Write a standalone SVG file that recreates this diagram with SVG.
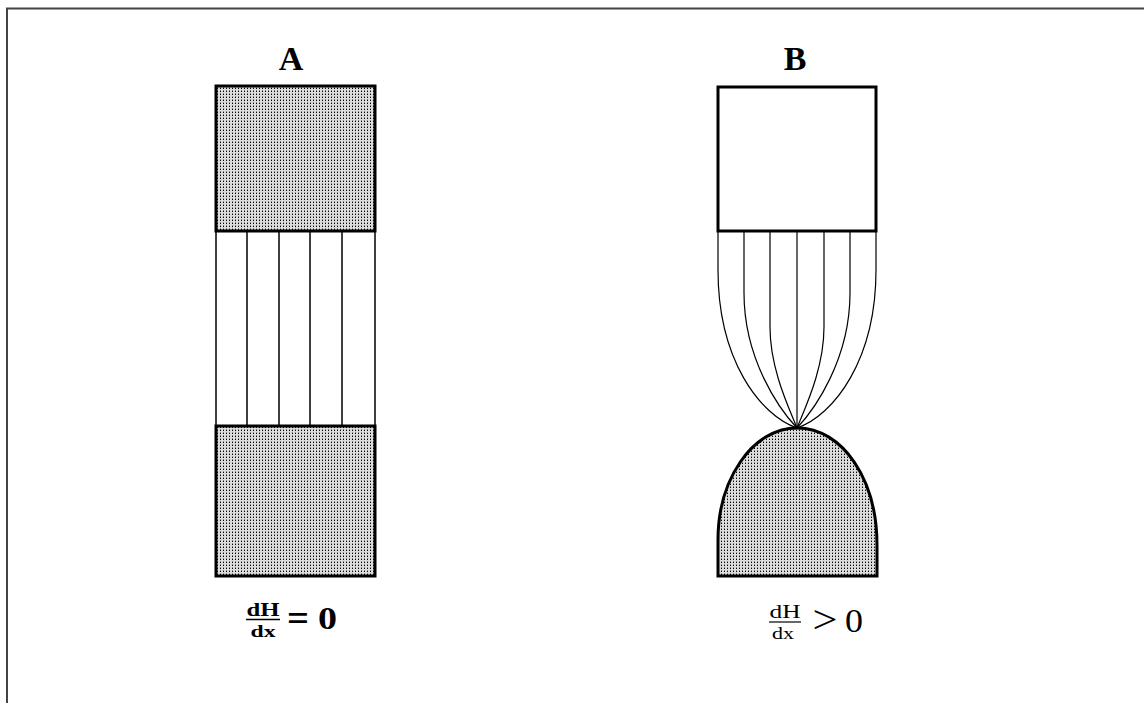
<svg xmlns="http://www.w3.org/2000/svg" width="1144" height="703" viewBox="0 0 1144 703">
<defs>
<pattern id="dots" width="3" height="3" patternUnits="userSpaceOnUse">
<rect width="3" height="3" fill="#dcdcdc"/>
<rect x="1" y="1" width="1" height="1" fill="#000"/>
<rect x="1" y="0" width="1" height="1" fill="#888"/>
</pattern>
<style>
.thick{stroke:#000;stroke-width:3;}
.thin{stroke:#000;stroke-width:1.5;fill:none;}
.curve{stroke:#000;stroke-width:1.2;fill:none;}
.lbl{font-family:"Liberation Serif","Times New Roman",serif;font-weight:bold;fill:#000;}
.frm{font-family:"Liberation Serif","Times New Roman",serif;fill:#000;}
</style>
</defs>
<rect x="0" y="0" width="1144" height="703" fill="#fff"/>
<path d="M7,703 L7,8.5 L1144,8.5" fill="none" stroke="#444" stroke-width="2"/>

<g id="panelA">
<text class="lbl" x="291" y="70" font-size="34" text-anchor="middle">A</text>
<rect class="thick" x="216" y="86" width="159" height="145" fill="url(#dots)"/>
<g class="thin">
<line x1="216" y1="231" x2="216" y2="426"/>
<line x1="247" y1="231" x2="247" y2="426"/>
<line x1="279" y1="231" x2="279" y2="426"/>
<line x1="310" y1="231" x2="310" y2="426"/>
<line x1="342" y1="231" x2="342" y2="426"/>
<line x1="375" y1="231" x2="375" y2="426"/>
</g>
<rect class="thick" x="216" y="426" width="159" height="150" fill="url(#dots)"/>
<g id="formulaA">
<text class="lbl" x="263" y="616" font-size="19" text-anchor="middle" textLength="33" lengthAdjust="spacingAndGlyphs">dH</text>
<line x1="246" y1="619.5" x2="280" y2="619.5" stroke="#000" stroke-width="1.5"/>
<text class="lbl" x="263" y="637" font-size="17" text-anchor="middle" textLength="25" lengthAdjust="spacingAndGlyphs">dx</text>
<text class="lbl" x="298" y="631" font-size="38" text-anchor="middle" textLength="22" lengthAdjust="spacingAndGlyphs">=</text>
<text class="lbl" x="327.5" y="629" font-size="32" text-anchor="middle" textLength="19" lengthAdjust="spacingAndGlyphs">0</text>
</g>
</g>

<g id="panelB">
<text class="lbl" x="795" y="70" font-size="34" text-anchor="middle">B</text>
<rect class="thick" x="718" y="87" width="158" height="144" fill="#fff"/>
<g class="curve">
<path d="M718,231 L718,270 C718,360 760,415 797,428"/>
<path d="M744,231 L744,293 C744,360 780,410 797,428"/>
<path d="M770,231 L770,327 C770,370 790,410 797,428"/>
<path d="M797,231 L797,428"/>
<path d="M824,231 L824,327 C824,370 804,410 797,428"/>
<path d="M850,231 L850,293 C850,360 814,410 797,428"/>
<path d="M876,231 L876,270 C876,360 834,415 797,428"/>
</g>
<path class="thick" d="M718,576 L718,540 C718,480 752,428 797,428 C843,428 877,480 877,545 L877,576 Z" fill="url(#dots)"/>
<g id="formulaB">
<text class="frm" x="785" y="618" font-size="19" text-anchor="middle" textLength="31" lengthAdjust="spacingAndGlyphs">dH</text>
<line x1="769" y1="622" x2="801" y2="622" stroke="#000" stroke-width="1.2"/>
<text class="frm" x="783" y="639" font-size="17" text-anchor="middle" textLength="22" lengthAdjust="spacingAndGlyphs">dx</text>
<text class="frm" x="825" y="633" font-size="40" text-anchor="middle" textLength="25" lengthAdjust="spacingAndGlyphs">&gt;</text>
<text class="frm" x="854" y="632" font-size="33" text-anchor="middle" textLength="18" lengthAdjust="spacingAndGlyphs">0</text>
</g>
</g>
</svg>
